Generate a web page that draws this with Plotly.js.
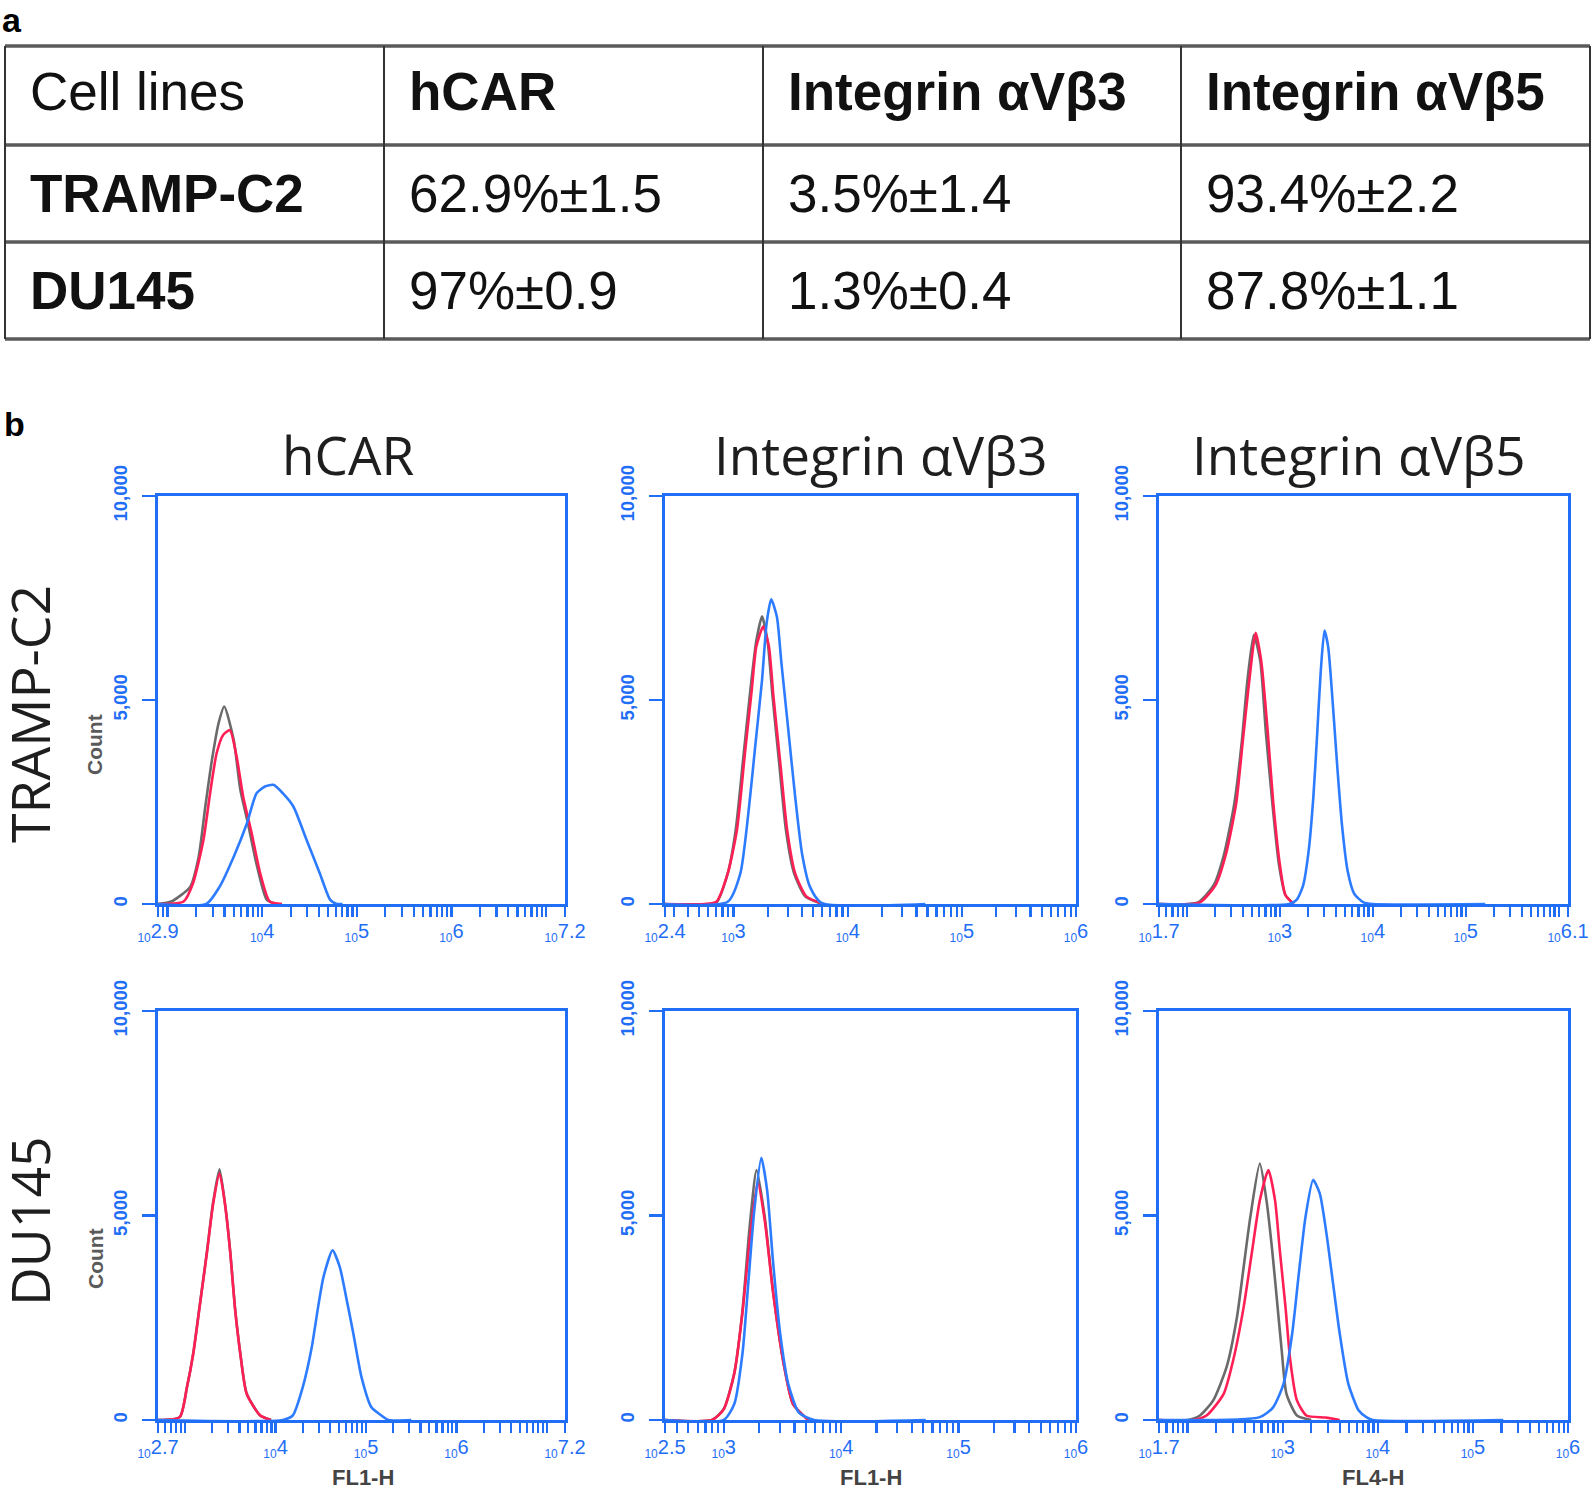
<!DOCTYPE html>
<html><head><meta charset="utf-8">
<script src="https://cdn.plot.ly/plotly-3.0.1.min.js"></script>
<style>html,body{margin:0;padding:0;background:#fff}</style>
</head><body><div id="chart" style="width:1595px;height:1492px"></div>
<script>
// ---------- (a) table data ----------
const tableHeader = ["Cell lines", "hCAR", "Integrin αVβ3", "Integrin αVβ5"];
const cellLines = ["TRAMP-C2", "DU145"];
const hCARpct = ["62.9%±1.5", "97%±0.9"];
const avb3pct = ["3.5%±1.4", "1.3%±0.4"];
const avb5pct = ["93.4%±2.2", "87.8%±1.1"];

// ---------- (b) histogram data ----------
const markers = ["hCAR", "Integrin αVβ3", "Integrin αVβ5"];
const rowLabels = ["TRAMP-C2", "DU145"];
const channels = ["FL1-H", "FL1-H", "FL4-H"];
// log10 x-ranges per panel (row-major)
const xRangesLog = [[2.9, 7.2], [2.4, 6.0], [1.7, 6.1], [2.7, 7.2], [2.5, 6.0], [1.7, 6.0]];
const yTicks = [0, 5000, 10000];
const yTickText = ["0", "5,000", "10,000"];

// [log10 fluorescence, count]
const tc2_hcar_gray = [[2.90,0],[3.04,60],[3.24,420],[3.33,1160],[3.40,2390],[3.47,3530],[3.54,4430],[3.60,4840],[3.70,4020],[3.77,2800],[3.85,1980],[3.94,990],[4.05,100],[4.15,0]];
const tc2_hcar_red  = [[2.90,0],[3.00,0],[3.17,60],[3.27,510],[3.38,1570],[3.45,2710],[3.52,3700],[3.59,4150],[3.66,4260],[3.73,3620],[3.80,2630],[3.89,1730],[3.98,750],[4.08,60],[4.21,0]];
const tc2_hcar_blue = [[2.90,0],[3.41,0],[3.55,420],[3.70,1160],[3.84,1980],[3.94,2710],[4.03,2880],[4.12,2920],[4.22,2710],[4.33,2390],[4.47,1570],[4.61,750],[4.72,100],[4.79,0],[4.85,0]];

const tc2_b3_gray = [[2.40,0],[2.84,0],[2.95,760],[3.02,1830],[3.09,3700],[3.15,5300],[3.20,6450],[3.25,7050],[3.30,6400],[3.34,5150],[3.40,3450],[3.46,1800],[3.53,760],[3.63,180],[3.78,0]];
const tc2_b3_red  = [[2.40,0],[2.75,0],[2.85,56],[2.95,750],[3.03,1810],[3.10,3690],[3.16,5250],[3.20,6310],[3.26,6800],[3.31,6310],[3.35,5080],[3.41,3450],[3.47,1810],[3.54,750],[3.64,180],[3.79,0]];
const tc2_b3_blue = [[2.40,0],[2.95,56],[3.06,750],[3.13,2220],[3.19,3860],[3.25,5490],[3.29,6880],[3.33,7470],[3.38,7040],[3.42,5900],[3.48,4270],[3.54,2630],[3.60,1240],[3.67,420],[3.77,30],[4.68,0]];

const tc2_b5_gray = [[1.70,0],[2.12,40],[2.29,470],[2.40,1220],[2.51,2460],[2.59,3960],[2.65,5450],[2.72,6600],[2.79,5950],[2.85,4200],[2.92,2460],[2.99,970],[3.06,220],[3.15,0]];
const tc2_b5_red  = [[1.70,0],[2.14,40],[2.31,470],[2.42,1220],[2.53,2460],[2.60,3960],[2.67,5450],[2.74,6650],[2.80,5950],[2.87,4210],[2.93,2460],[3.00,970],[3.06,220],[3.15,0]];
const tc2_b5_blue = [[1.70,0],[3.10,0],[3.18,100],[3.25,450],[3.31,1300],[3.36,2600],[3.40,4100],[3.44,5700],[3.48,6700],[3.52,6300],[3.57,4900],[3.62,3300],[3.67,1900],[3.73,800],[3.80,250],[3.90,40],[4.00,0],[5.21,0]];

const du_hcar_gray = [[2.70,0],[2.94,70],[3.02,800],[3.09,1640],[3.16,2780],[3.24,4100],[3.31,5330],[3.38,6130],[3.44,5300],[3.50,4080],[3.55,2770],[3.61,1630],[3.68,650],[3.83,110],[3.95,0]];
const du_hcar_red  = [[2.70,0],[2.94,70],[3.02,800],[3.09,1620],[3.16,2760],[3.24,4070],[3.31,5290],[3.38,6030],[3.44,5290],[3.50,4070],[3.55,2760],[3.61,1620],[3.68,640],[3.83,110],[3.95,0]];
const du_hcar_blue = [[2.70,0],[4.08,0],[4.19,110],[4.30,800],[4.40,1780],[4.47,2760],[4.53,3500],[4.63,4150],[4.71,3740],[4.78,3010],[4.86,2110],[4.95,1050],[5.06,310],[5.17,110],[5.25,0],[5.50,0]];

const du_b3_gray = [[2.50,0],[2.90,0],[3.00,270],[3.09,1150],[3.16,2680],[3.22,4700],[3.28,6110],[3.35,4950],[3.42,3150],[3.51,1390],[3.59,390],[3.72,0]];
const du_b3_red  = [[2.50,0],[2.90,0],[3.00,260],[3.09,1130],[3.16,2630],[3.23,4620],[3.29,5810],[3.35,4870],[3.42,3130],[3.51,1380],[3.59,390],[3.72,0]];
const du_b3_blue = [[2.50,0],[3.00,0],[3.09,390],[3.16,1630],[3.21,3370],[3.26,5120],[3.32,6410],[3.37,5610],[3.42,3870],[3.48,2130],[3.55,880],[3.64,180],[3.77,0],[4.72,0]];

const du_b5_gray = [[1.70,0],[2.00,0],[2.13,110],[2.27,480],[2.41,1290],[2.52,2520],[2.59,3740],[2.66,4960],[2.76,6270],[2.83,5370],[2.89,4150],[2.94,2930],[2.99,1700],[3.04,640],[3.15,110],[3.30,0]];
const du_b5_red  = [[1.70,0],[2.05,0],[2.20,110],[2.38,640],[2.48,1460],[2.59,2760],[2.68,4150],[2.76,5370],[2.85,6110],[2.92,5370],[2.97,4150],[3.03,2760],[3.08,1460],[3.15,480],[3.25,110],[3.45,60],[3.60,0]];
const du_b5_blue = [[1.70,0],[2.76,70],[2.90,310],[3.01,890],[3.10,2110],[3.17,3580],[3.24,4960],[3.32,5870],[3.39,5540],[3.46,4570],[3.53,3340],[3.60,2110],[3.69,890],[3.80,230],[3.88,70],[3.95,0],[5.32,0]];

const panelCurves = [
  [tc2_hcar_gray, tc2_hcar_red, tc2_hcar_blue],
  [tc2_b3_gray, tc2_b3_red, tc2_b3_blue],
  [tc2_b5_gray, tc2_b5_red, tc2_b5_blue],
  [du_hcar_gray, du_hcar_red, du_hcar_blue],
  [du_b3_gray, du_b3_red, du_b3_blue],
  [du_b5_gray, du_b5_red, du_b5_blue]
];

// ---------- layout geometry (pixels) ----------
const W = 1595, H = 1492;
const colPx = [[158, 565], [665, 1076], [1159, 1568]];
const rowPx = [[496, 904], [1011, 1420]];
const tblX = [5, 384, 763, 1181, 1590];
const tblY = [46, 145, 242, 339];
const tblTextY = [91.5, 193.5, 290];
const AX = '#1f6ef5';
const curveColors = ['#6a6a6a', '#ff1f55', '#2d7cff'];
const px = v => v / W, py = v => 1 - v / H;

const traces = [];
const layout = {
  width: W, height: H, margin: {l: 0, r: 0, t: 0, b: 0},
  paper_bgcolor: '#fff', plot_bgcolor: '#fff', showlegend: false,
  annotations: [], shapes: [], font: {family: 'Liberation Sans, Arial, sans-serif'}
};

// ---------- table (a): grid + cell texts built from the arrays ----------
tblY.forEach(y => layout.shapes.push({type: 'line', xref: 'paper', yref: 'paper',
  x0: px(tblX[0]), x1: px(tblX[tblX.length - 1]), y0: py(y), y1: py(y),
  line: {color: '#5a5a5a', width: 3.5}}));
tblX.forEach(x => layout.shapes.push({type: 'line', xref: 'paper', yref: 'paper',
  x0: px(x), x1: px(x), y0: py(tblY[0]), y1: py(tblY[tblY.length - 1]),
  line: {color: '#333', width: 2}}));
const tableRows = [tableHeader];
cellLines.forEach((cl, i) => tableRows.push([cl, hCARpct[i], avb3pct[i], avb5pct[i]]));
tableRows.forEach((row, r) => row.forEach((t, c) => {
  const bold = (r === 0 && c > 0) || (r > 0 && c === 0);
  layout.annotations.push({
    text: bold ? '<b>' + t + '</b>' : t, xref: 'paper', yref: 'paper',
    x: px(tblX[c] + 23), y: py(tblTextY[r]), xanchor: 'left', yanchor: 'middle', showarrow: false,
    font: {family: 'Liberation Sans, Arial, sans-serif', size: 53, color: '#111'}
  });
}));

// ---------- histograms (b) ----------
function minorVals(lo, hi, extra) {
  const v = [];
  for (let d = Math.floor(lo); d <= Math.ceil(hi); d++) {
    for (let k = 2; k <= 9; k++) {
      const l = Math.log10(k) + d;
      if (l > lo + 1e-6 && l < hi - 1e-6) v.push(Math.pow(10, l));
    }
  }
  return v.concat(extra);
}
function majorTicks(lo, hi) {
  const vals = [], txt = [], hidden = [];
  const fmt = e => (Math.abs(e - Math.round(e)) < 1e-9 ? String(Math.round(e)) : e.toFixed(1));
  const lab = e => '<sub><span style="font-size:12px">10</span></sub>' + fmt(e);
  vals.push(Math.pow(10, lo)); txt.push(lab(lo));
  for (let d = Math.ceil(lo + 1e-9); d < hi - 1e-9; d++) {
    if (d - lo < 0.35 || hi - d < 0.35) { hidden.push(Math.pow(10, d)); continue; }
    vals.push(Math.pow(10, d)); txt.push(lab(d));
  }
  vals.push(Math.pow(10, hi)); txt.push(lab(hi));
  return {vals, txt, hidden};
}

for (let r = 0; r < 2; r++) {
  for (let c = 0; c < 3; c++) {
    const p = r * 3 + c;
    const n = p + 1;
    const xa = 'x' + (n === 1 ? '' : n), ya = 'y' + (n === 1 ? '' : n);
    const xk = 'xaxis' + (n === 1 ? '' : n), yk = 'yaxis' + (n === 1 ? '' : n);
    const [lo, hi] = xRangesLog[p];
    panelCurves[p].forEach((curve, ci) => {
      traces.push({
        type: 'scatter', mode: 'lines', xaxis: xa, yaxis: ya,
        x: curve.map(d => Math.pow(10, d[0])), y: curve.map(d => d[1]),
        line: {color: curveColors[ci], width: 2.6, shape: 'spline', smoothing: 0.6},
        hoverinfo: 'skip'
      });
    });
    const mt = majorTicks(lo, hi);
    layout[xk] = {
      type: 'log', range: [lo, hi], anchor: ya,
      domain: [px(colPx[c][0]), px(colPx[c][1])],
      showline: true, linecolor: AX, linewidth: 3, mirror: true,
      showgrid: false, zeroline: false,
      tickmode: 'array', tickvals: mt.vals, ticktext: mt.txt,
      ticks: 'outside', ticklen: 10, tickwidth: 2.2, tickcolor: AX,
      tickfont: {family: 'Liberation Sans, Arial, sans-serif', size: 20, color: AX},
      tickangle: 0, ticklabelstandoff: -3,
      minor: {tickmode: 'array', tickvals: minorVals(lo, hi, mt.hidden), ticks: 'outside', ticklen: 10, tickwidth: 2.2, tickcolor: AX, showgrid: false}
    };
    layout[yk] = {
      range: [0, 10000], anchor: xa,
      domain: [py(rowPx[r][1]), py(rowPx[r][0])],
      showline: true, linecolor: AX, linewidth: 3, mirror: true,
      showgrid: false, zeroline: false,
      tickmode: 'array', tickvals: yTicks, ticktext: yTickText,
      ticks: 'outside', ticklen: 13, tickwidth: 2.2, tickcolor: AX,
      tickangle: -90, ticklabelstandoff: 8,
      tickfont: {family: 'Liberation Sans, Arial, sans-serif', size: 18.5, color: AX, weight: 'bold'}
    };
  }
}

// column titles
const titleX = [348, 881, 1359];
markers.forEach((m, i) => layout.annotations.push({
  text: m, xref: 'paper', yref: 'paper', x: px(titleX[i]), y: py(455),
  xanchor: 'center', yanchor: 'middle', showarrow: false,
  font: {family: 'Open Sans, Noto Sans, sans-serif', size: 53, color: '#1e1e1e'}
}));
// row labels
const rowLabelY = [714, 1221];
rowLabels.forEach((t, i) => layout.annotations.push({
  text: t, xref: 'paper', yref: 'paper', x: px(29), y: py(rowLabelY[i]),
  xanchor: 'center', yanchor: 'middle', textangle: -90, showarrow: false,
  font: {family: 'Open Sans, Noto Sans, sans-serif', size: 53.5, color: '#1e1e1e'}
}));
// Count labels
const countY = [745, 1259];
countY.forEach(yy => layout.annotations.push({
  text: 'Count', xref: 'paper', yref: 'paper', x: px(95), y: py(yy),
  xanchor: 'center', yanchor: 'middle', textangle: -90, showarrow: false,
  font: {family: 'Liberation Sans, Arial, sans-serif', size: 21, color: '#5a5a5a', weight: 'bold'}
}));
// channel labels
const chanX = [363, 871, 1373];
channels.forEach((t, i) => layout.annotations.push({
  text: t, xref: 'paper', yref: 'paper', x: px(chanX[i]), y: py(1477),
  xanchor: 'center', yanchor: 'middle', showarrow: false,
  font: {family: 'Liberation Sans, Arial, sans-serif', size: 22, color: '#444', weight: 'bold'}
}));
// panel letters
[['a', 12, 20], ['b', 14, 424]].forEach(([t, x, y]) => layout.annotations.push({
  text: '<b>' + t + '</b>', xref: 'paper', yref: 'paper', x: px(x), y: py(y),
  xanchor: 'center', yanchor: 'middle', showarrow: false,
  font: {family: 'Liberation Sans, Arial, sans-serif', size: 34, color: '#000'}
}));

Plotly.newPlot('chart', traces, layout, {displayModeBar: false, staticPlot: true});
</script>
</body></html>
